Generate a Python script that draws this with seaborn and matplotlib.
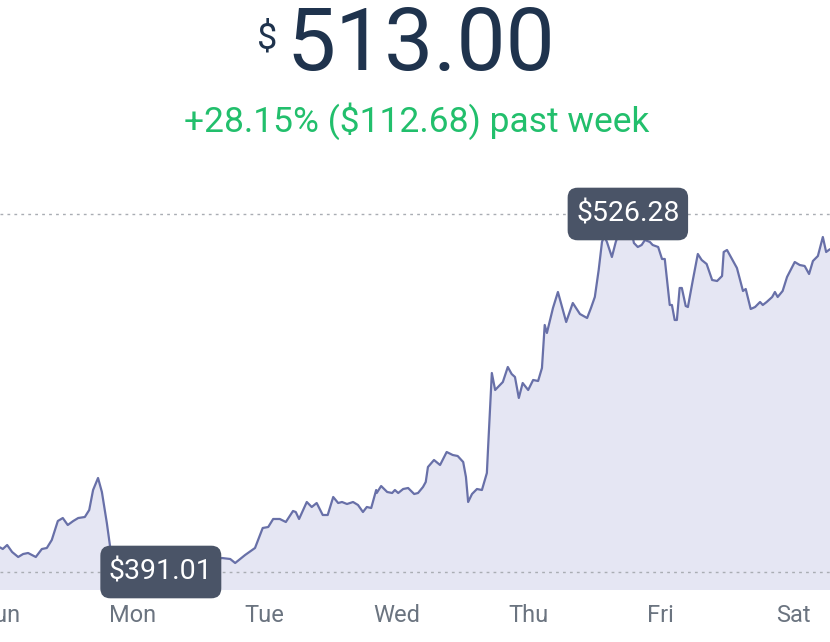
import matplotlib
matplotlib.use("Agg")
import matplotlib.pyplot as plt
from matplotlib.patches import BoxStyle
import seaborn as sns
import pandas as pd

# ---- data ----
day_labels = ["Sun", "Mon", "Tue", "Wed", "Thu", "Fri", "Sat"]
hours = [0.0, 0.5, 1.3, 2.2, 3.3, 4.2, 5.1, 6.5, 7.6, 8.5, 9.4, 10.5, 11.4, 12.3, 13.3, 14.2,
         15.4, 16.2, 16.9, 17.8, 18.5, 19.4, 20.0, 20.3, 21.8, 24.5, 27.2, 29.2, 31.8, 34.5,
         37.2, 39.0, 40.3, 41.8, 42.7, 44.5, 46.3, 47.2, 47.7, 48.7, 49.6, 50.8, 51.9, 53.2,
         53.7, 54.3, 55.7, 56.6, 57.5, 58.6, 59.5, 60.5, 61.4, 62.1, 63.0, 64.1, 65.0, 65.9,
         66.6, 67.4, 68.3, 68.4, 69.2, 70.3, 71.2, 71.7, 72.3, 73.2, 74.1, 75.2, 75.9, 76.8,
         77.3, 77.7, 78.8, 79.9, 81.1, 82.2, 83.1, 84.1, 84.6, 85.0, 85.7, 86.6, 87.5, 88.4,
         88.6, 89.3, 89.9, 91.3, 92.2, 92.9, 93.5, 94.2, 94.9, 95.9, 96.8, 97.7, 98.4, 98.9,
         99.3, 100.4, 101.3, 102.8, 104.0, 105.3, 106.6, 107.3, 108.0, 108.7, 109.3, 109.7,
         110.2, 111.1, 111.8, 112.7, 113.5, 114.0, 114.6, 115.1, 115.8, 116.5, 117.1, 118.0,
         118.5, 119.5, 120.2, 120.7, 121.6, 122.0, 122.5, 122.9, 123.4, 123.8, 124.5, 124.9,
         125.8, 126.7, 127.4, 128.3, 129.3, 130.2, 131.1, 131.4, 132.0, 132.9, 133.8, 134.9,
         135.4, 136.3, 137.1, 138.0, 138.5, 139.2, 140.2, 140.7, 141.2, 142.1, 142.9, 144.3,
         145.2, 146.1, 146.9, 147.6, 148.5, 149.4, 150.0, 150.7]
prices = [400.32, 399.70, 401.21, 398.57, 396.68, 397.81, 398.19, 396.68, 399.70, 400.08,
          403.10, 410.28, 411.41, 408.77, 410.28, 411.41, 411.79, 414.44, 421.99, 426.53,
          421.24, 409.52, 400.46, 394.41, 393.28, 394.03, 392.52, 391.01, 393.28, 394.41,
          393.28, 395.54, 396.30, 395.92, 394.41, 397.43, 400.08, 404.99, 407.64, 408.01,
          411.04, 411.04, 409.90, 414.06, 413.68, 411.04, 417.46, 415.57, 417.08, 412.55,
          412.55, 419.35, 417.08, 417.46, 416.70, 417.46, 416.33, 413.68, 415.57, 415.19,
          421.99, 420.86, 423.50, 421.24, 420.86, 421.99, 420.86, 422.37, 422.75, 420.48,
          420.86, 423.13, 425.02, 430.68, 433.33, 431.44, 436.35, 435.22, 434.84, 432.57,
          426.91, 417.46, 420.48, 422.37, 421.99, 428.42, 437.11, 466.20, 459.78, 462.80,
          468.47, 465.82, 464.69, 456.76, 462.42, 459.78, 463.56, 463.18, 468.09, 484.34,
          481.32, 490.76, 496.81, 485.47, 492.65, 488.49, 486.98, 490.76, 494.92, 505.12,
          515.70, 517.97, 515.70, 510.03, 515.70, 520.99, 524.01, 526.28, 520.23, 515.32,
          513.81, 514.57, 516.46, 515.70, 514.57, 513.81, 509.28, 509.28, 491.90, 491.90,
          486.23, 486.23, 498.32, 498.32, 491.52, 491.14, 501.34, 511.17, 508.90, 507.39,
          501.34, 500.96, 502.85, 511.92, 512.68, 509.28, 505.88, 497.19, 497.94, 490.38,
          491.14, 493.03, 491.90, 493.03, 494.92, 496.81, 494.92, 497.19, 502.48, 508.14,
          507.01, 506.63, 503.61, 508.52, 510.41, 517.59, 511.92, 513.00]
current_price = "513.00"
change_text = "+28.15% ($112.68) past week"

df = pd.DataFrame({"hours": hours, "price": prices})

# ---- style ----
sns.set_theme(style="white")
plt.rcParams["font.family"] = ["Roboto", "DejaVu Sans"]

line_color = "#6870a8"
fill_color = "#e5e6f3"
box_color = "#4a5467"
title_color = "#1f334d"
green = "#22bf6c"
tick_color = "#6b7480"

_round = BoxStyle.Round(pad=0, rounding_size=0.35)


def label_box(x0, y0, width, height, mutation_size):
    padx = 0.3 * mutation_size
    pady = 0.45 * mutation_size
    return _round(x0 - padx, y0 - pady, width + 2 * padx, height + 2 * pady, mutation_size)


fig = plt.figure(figsize=(8.3, 6.42), dpi=100)
ax = fig.add_axes([0.0, 1 - 590 / 642, 1.0, (590 - 150) / 642])

ax.fill_between(df["hours"], df["price"], 0, color=fill_color, lw=0, zorder=1)
sns.lineplot(data=df, x="hours", y="price", ax=ax, color=line_color, lw=1.6,
             sort=False, estimator=None, zorder=3)

pmax, pmin = max(prices), min(prices)
hmax = hours[prices.index(pmax)]
hmin = hours[prices.index(pmin)]
for v in (pmax, pmin):
    ax.axhline(v, color="#a9adb3", lw=1.0, linestyle=(0, (2, 3)), zorder=2)

for h, v in ((hmax, pmax), (hmin, pmin)):
    ax.text(h, v, f"${v:.2f}", ha="center", va="center", color="white", fontsize=20.5,
            zorder=5, bbox=dict(boxstyle=label_box, fc=box_color, ec="none"))

ax.set_xlim(0, 150.7)
ax.set_ylim(384.21, 550.46)
ax.set_xticks([24 * i for i in range(len(day_labels))])
ax.set_xticklabels(day_labels)
ax.tick_params(axis="x", length=0, pad=10, labelsize=17, labelcolor=tick_color)
ax.set_yticks([])
ax.set_xlabel("")
ax.set_ylabel("")
for s in ax.spines.values():
    s.set_visible(False)
ax.set_facecolor("white")

fig.text(286 / 830, 1 - 70 / 642, current_price, ha="left", va="baseline",
         fontsize=63, color=title_color)
fig.text(267 / 830, 1 - 39 / 642, "$", ha="center", va="center",
         fontsize=26, color=title_color)
fig.text(417 / 830, 1 - 132 / 642, change_text, ha="center", va="baseline",
         fontsize=25.5, color=green)

fig.savefig("out.png", dpi=100, facecolor="white")
